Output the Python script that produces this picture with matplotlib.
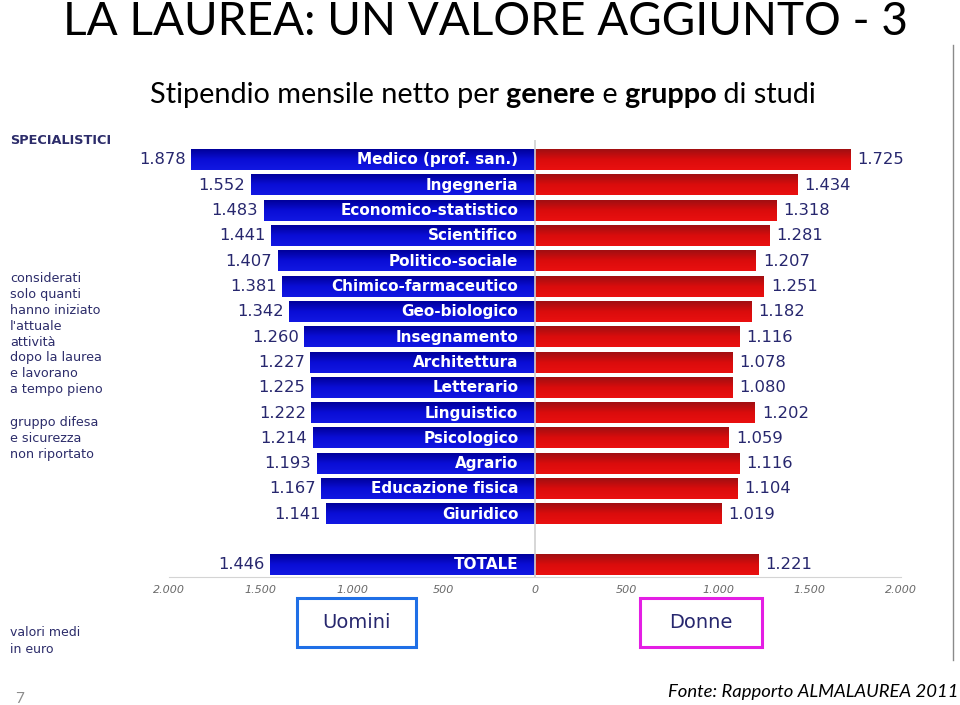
import numpy as np
import matplotlib
matplotlib.use('Agg')
import matplotlib.pyplot as plt
from matplotlib.colors import LinearSegmentedColormap
from matplotlib.patches import Rectangle
from matplotlib.lines import Line2D

# data (euro, valori medi)
gruppi = ['Medico (prof. san.)', 'Ingegneria', 'Economico-statistico', 'Scientifico',
          'Politico-sociale', 'Chimico-farmaceutico', 'Geo-biologico', 'Insegnamento',
          'Architettura', 'Letterario', 'Linguistico', 'Psicologico', 'Agrario',
          'Educazione fisica', 'Giuridico']
uomini = [1878, 1552, 1483, 1441, 1407, 1381, 1342, 1260, 1227, 1225, 1222, 1214, 1193, 1167, 1141]
donne = [1725, 1434, 1318, 1281, 1207, 1251, 1182, 1116, 1078, 1080, 1202, 1059, 1116, 1104, 1019]
totale_label = 'TOTALE'
totale_uomini = 1446
totale_donne = 1221
xticks = [-2000, -1500, -1000, -500, 0, 500, 1000, 1500, 2000]

NAVY = '#27276e'
blue_cm = LinearSegmentedColormap.from_list('b', ['#00009a', '#0a0ed6', '#1218e2'])
red_cm = LinearSegmentedColormap.from_list('r', ['#a00f12', '#da0c0c', '#ea1010'])

W, H = 960, 705
def fx(x):
    return x / W
def fy(y):
    return 1 - y / H

def fmt(v):
    return f'{abs(v):,}'.replace(',', '.')

fig = plt.figure(figsize=(9.6, 7.05), dpi=100)
ax = fig.add_axes([fx(130), fy(577), fx(940) - fx(130), fy(140) - fy(577)])

ypos = list(range(len(gruppi))) + [len(gruppi) + 1]
labels = gruppi + [totale_label]
left_vals = uomini + [totale_uomini]
right_vals = donne + [totale_donne]

bh = 0.8
lbars = ax.barh(ypos, [-v for v in left_vals], height=bh, color='#0a0ed6', zorder=2)
rbars = ax.barh(ypos, right_vals, height=bh, color='#da0c0c', zorder=2)

# vertical shading on the bars
grad = np.linspace(0, 1, 64).reshape(-1, 1)
for bars, cm in ((lbars, blue_cm), (rbars, red_cm)):
    for b in bars:
        x0, y0 = b.get_x(), b.get_y()
        ax.imshow(grad, cmap=cm, aspect='auto', zorder=3,
                  extent=(x0, x0 + b.get_width(), y0 + b.get_height(), y0))

for y, lab, lv, rv in zip(ypos, labels, left_vals, right_vals):
    ax.annotate(lab, (0, y), xytext=(-12, 0), textcoords='offset points',
                ha='right', va='center', color='white', fontsize=11,
                fontweight='bold', zorder=5)
    ax.annotate(fmt(lv), (-lv, y), xytext=(-4, 0), textcoords='offset points',
                ha='right', va='center', color=NAVY, fontsize=11.8, zorder=5)
    ax.annotate(fmt(rv), (rv, y), xytext=(5, 0), textcoords='offset points',
                ha='left', va='center', color=NAVY, fontsize=11.8, zorder=5)

ax.axvline(0, color='#cfcfcf', lw=1.2, zorder=4)

ax.set_xlim(-2213, 2213)
ax.set_ylim(16.48, -0.79)
ax.set_xticks(xticks)
ax.set_xticklabels([fmt(t) for t in xticks], fontsize=8, style='italic', color='#6a6a6a')
ax.tick_params(axis='x', length=0, pad=6)
ax.set_yticks([])
for s in ['top', 'left', 'right']:
    ax.spines[s].set_visible(False)
ax.spines['bottom'].set_bounds(-2000, 2000)
ax.spines['bottom'].set_color('#d4d4d4')
ax.patch.set_alpha(0)

# slide texts
fig.text(fx(485), fy(35), 'LA LAUREA: UN VALORE AGGIUNTO - 3', ha='center', va='baseline',
         fontsize=33, family=['Lato', 'DejaVu Sans'], color='black')

parts = [('Stipendio mensile netto per', 'normal'), (' genere', 'bold'), (' e', 'normal'),
         (' gruppo', 'bold'), (' di studi', 'normal')]
prev = fig.text(fx(150), fy(103), parts[0][0], ha='left', va='baseline', fontsize=20.8,
                family=['Lato', 'DejaVu Sans'], color='black')
for txt, wt in parts[1:]:
    prev = ax.annotate(txt, xy=(1, 0), xycoords=prev, ha='left', va='bottom', fontsize=20.8,
                       fontweight=wt, family=['Lato', 'DejaVu Sans'], color='black',
                       annotation_clip=False)

fig.text(fx(10), fy(140), 'SPECIALISTICI', ha='left', va='center', fontsize=9.3,
         fontweight='bold', color='#2c2c6a')
fig.text(fx(10), fy(272), "considerati\nsolo quanti\nhanno iniziato\nl'attuale\nattività\n"
         "dopo la laurea\ne lavorano\na tempo pieno", ha='left', va='top', fontsize=9.2,
         color='#2c2c6a', linespacing=1.29)
fig.text(fx(10), fy(416), 'gruppo difesa\ne sicurezza\nnon riportato', ha='left', va='top',
         fontsize=9.2, color='#2c2c6a', linespacing=1.32)
fig.text(fx(10), fy(626), 'valori medi\nin euro', ha='left', va='top', fontsize=9,
         color='#2c2c6a', linespacing=1.4)

# legend boxes
for (x0, x1, col, lab) in ((297, 416, '#1f6fe6', 'Uomini'), (640, 762, '#e41ee4', 'Donne')):
    fig.add_artist(Rectangle((fx(x0), fy(647)), fx(x1) - fx(x0), fy(598) - fy(647),
                             transform=fig.transFigure, fill=False, ec=col, lw=2.2))
    fig.text(fx((x0 + x1) / 2), fy(622), lab, ha='center', va='center', fontsize=14,
             color=NAVY)

fig.add_artist(Line2D([fx(953), fx(953)], [fy(45), fy(660)], transform=fig.transFigure,
                      color='#8a8a8a', lw=1))

fig.text(fx(958), fy(697), 'Fonte: Rapporto ALMALAUREA 2011', ha='right', va='baseline',
         fontsize=13.3, style='italic', family=['Lato', 'DejaVu Sans'], color='black')
fig.text(fx(15), fy(703), '7', ha='left', va='baseline', fontsize=11, color='#8c8c8c',
         family=['Lato', 'DejaVu Sans'])

fig.savefig('out.png', dpi=100)
